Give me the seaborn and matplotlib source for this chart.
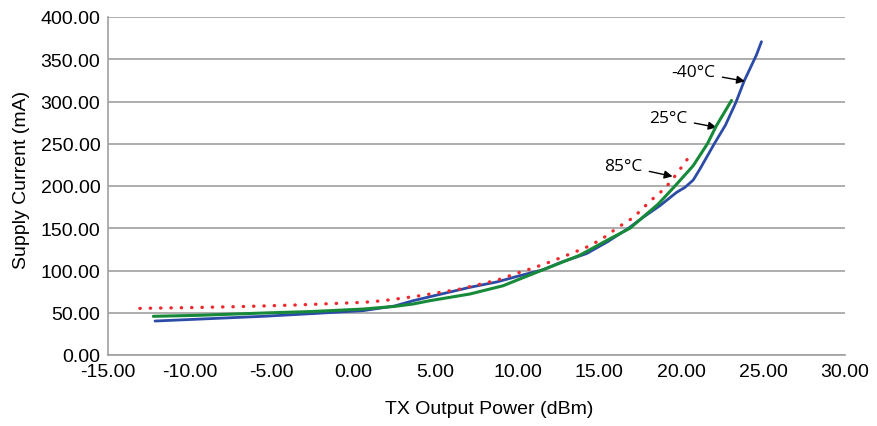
import matplotlib
matplotlib.use("Agg")
import matplotlib.pyplot as plt
import seaborn as sns
import pandas as pd
from matplotlib.ticker import FormatStrFormatter

# -40°C series
x_m40 = [-12.13, -9.4, -5.5, -2.5, 0.59, 2.5, 3.64, 4.66, 7.1, 8.75, 10.15, 11.58,
         12.7, 14.22, 15.5, 16.78, 17.68, 18.7, 19.72, 20.23, 20.73, 21.14, 22.02,
         22.7, 23.34, 23.85, 24.3, 24.59, 24.9]
y_m40 = [40.2, 42.5, 45.8, 49.0, 52.5, 58.0, 64.3, 69.0, 80.1, 86.5, 93.9, 101.0,
         110.0, 120.0, 134.0, 150.0, 163.0, 176.7, 192.5, 198.4, 207.0, 220.0, 250.0,
         272.0, 299.0, 324.6, 343.0, 355.0, 370.8]

# 25°C series
x_25 = [-12.23, -9.4, -5.5, -2.5, 0.59, 2.5, 3.64, 4.66, 7.1, 9.13, 10.15, 11.58,
        13.8, 15.5, 16.87, 18.6, 19.62, 20.73, 21.6, 22.15, 23.07]
y_25 = [45.8, 47.0, 49.7, 51.5, 54.4, 57.5, 60.4, 64.3, 72.2, 82.0, 90.0, 101.0,
        118.0, 136.0, 150.0, 178.7, 200.0, 224.0, 250.0, 271.4, 301.3]

# 85°C series
x_85 = [-13.05, -9.4, -6.5, -3.48, 0.59, 1.81, 3.03, 4.15, 6.49, 8.83, 9.95, 11.07,
        12.19, 13.3, 13.85, 14.38, 14.89, 15.38, 15.85, 16.36, 16.87, 17.34, 18.15,
        18.64, 19.07, 19.45, 19.82, 20.16, 20.53]
y_85 = [55.2, 56.3, 57.5, 59.2, 62.3, 64.3, 67.4, 70.5, 78.0, 89.0, 96.6, 103.7,
        111.6, 120.3, 124.6, 129.0, 134.5, 140.3, 147.0, 153.8, 160.0, 167.6, 183.0,
        190.9, 198.8, 207.5, 217.0, 226.0, 235.9]

x_ticks = [-15, -10, -5, 0, 5, 10, 15, 20, 25, 30]
y_ticks = [0, 50, 100, 150, 200, 250, 300, 350, 400]

sns.set_style("white")
plt.rcParams['font.family'] = ['Liberation Sans', 'DejaVu Sans']
plt.rcParams['axes.unicode_minus'] = False
plt.rcParams['text.color'] = 'black'
plt.rcParams['axes.labelcolor'] = 'black'

fig = plt.figure(figsize=(8.77, 4.27), dpi=100)
ax = fig.add_axes([108/877, 1-356/427, (845-108)/877, (356-18)/427])

df_m40 = pd.DataFrame({"x": x_m40, "y": y_m40})
df_25 = pd.DataFrame({"x": x_25, "y": y_25})
df_85 = pd.DataFrame({"x": x_85, "y": y_85})

sns.lineplot(data=df_m40, x="x", y="y", ax=ax, color="#2b4ba6", lw=2.0,
             sort=False, estimator=None, zorder=3)
sns.lineplot(data=df_25, x="x", y="y", ax=ax, color="#178a3a", lw=2.2,
             sort=False, estimator=None, zorder=4)
sns.lineplot(data=df_85, x="x", y="y", ax=ax, color="#ee2a2e", lw=2.4,
             sort=False, estimator=None, zorder=5)
for ln in ax.lines:
    ln.set_solid_joinstyle('round')
ax.lines[-1].set_dashes([0.1, 3.0])
ax.lines[-1].set_dash_capstyle('round')

ax.set_xlim(-15, 30)
ax.set_ylim(0, 400)
ax.set_xticks(x_ticks)
ax.set_yticks(y_ticks)
ax.xaxis.set_major_formatter(FormatStrFormatter('%.2f'))
ax.yaxis.set_major_formatter(FormatStrFormatter('%.2f'))

ax.grid(axis='y', color='#a0a0a0', lw=1.2, zorder=0)
ax.grid(axis='x', visible=False)
ax.set_axisbelow(True)
for s in ['top', 'right']:
    ax.spines[s].set_visible(False)
for s in ['left', 'bottom']:
    ax.spines[s].set_color('#a0a0a0')
    ax.spines[s].set_linewidth(1.2)

ax.tick_params(axis='both', which='major', labelsize=14, colors='#a0a0a0',
               labelcolor='black', length=4, width=1.2, pad=1.5, direction='out')
ax.tick_params(axis='x', pad=2)

ax.set_xlabel("TX Output Power (dBm)", fontsize=14, color='black')
ax.set_ylabel("Supply Current (mA)", fontsize=14, color='black')
ax.xaxis.set_label_coords(0.517, -0.133)
ax.yaxis.set_label_coords(-0.106, 0.52)

arrow = dict(arrowstyle='-|>', color='black', lw=1.0, mutation_scale=12,
             shrinkA=3, shrinkB=0)
ann_font = ['Open Sans', 'DejaVu Sans']
ax.annotate("-40°C", xy=(23.89, 324), xytext=(22.06, 335), fontsize=12.5,
            ha='right', va='center', family=ann_font, color='black',
            arrowprops=arrow)
ax.annotate("25°C", xy=(22.16, 269.4), xytext=(20.35, 280.5), fontsize=12.5,
            ha='right', va='center', family=ann_font, color='black',
            arrowprops=arrow)
ax.annotate("85°C", xy=(19.47, 211.4), xytext=(17.6, 224), fontsize=12.5,
            ha='right', va='center', family=ann_font, color='black',
            arrowprops=arrow)

fig.savefig("out.png", dpi=100)
